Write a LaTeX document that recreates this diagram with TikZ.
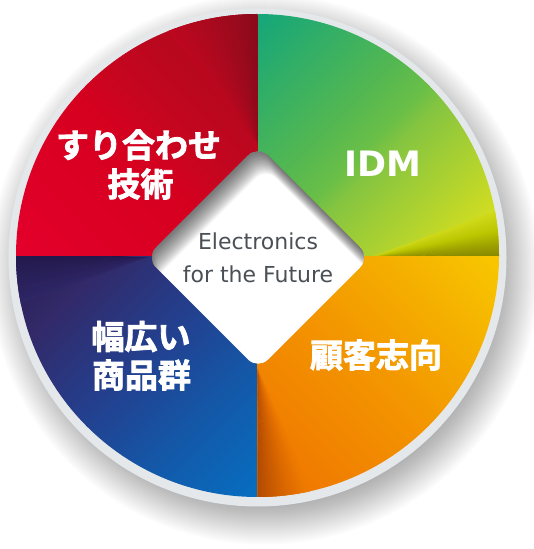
\documentclass[tikz,border=0pt]{standalone}
\usepackage{fontspec}
\newfontfamily\jpb{Noto Sans CJK JP Bold}[FakeBold=2.5]
\newfontfamily\dvs{DejaVu Sans}
\definecolor{ringgray}{HTML}{E5E8EB}
\definecolor{coretext}{HTML}{4B5056}
% linear stops
\definecolor{gA}{HTML}{14A67A}\definecolor{gB}{HTML}{55B850}\definecolor{gC}{HTML}{6BBF47}
\definecolor{gD}{HTML}{86C540}\definecolor{gE}{HTML}{CEDC22}\definecolor{gF}{HTML}{DDE416}
\definecolor{rA}{HTML}{E4002B}\definecolor{rB}{HTML}{D6001F}\definecolor{rC}{HTML}{C5061F}
\definecolor{rD}{HTML}{B0091E}\definecolor{rE}{HTML}{980A1C}
\definecolor{bA}{HTML}{2A1C50}\definecolor{bB}{HTML}{322A6A}\definecolor{bC}{HTML}{243E8C}
\definecolor{bD}{HTML}{1556A6}\definecolor{bE}{HTML}{066FC2}
\definecolor{oA}{HTML}{EE7000}\definecolor{oB}{HTML}{F18300}\definecolor{oC}{HTML}{F39500}
\definecolor{oD}{HTML}{F5AE00}\definecolor{oE}{HTML}{F8C800}
% fold stops
\definecolor{gf0}{HTML}{787A00}\definecolor{gf1}{HTML}{9A9E00}\definecolor{gf2}{HTML}{BDC600}\definecolor{gf3}{HTML}{CFDA1A}
\definecolor{of0}{HTML}{A84400}\definecolor{of1}{HTML}{C65800}\definecolor{of2}{HTML}{E06C00}\definecolor{of3}{HTML}{EF7C00}
\definecolor{rf0}{HTML}{820A1A}\definecolor{rf1}{HTML}{9A0A1D}\definecolor{rf2}{HTML}{AE091E}\definecolor{rf3}{HTML}{BC071F}
\definecolor{bf0}{HTML}{22174A}\definecolor{bf1}{HTML}{2E2766}
\pgfdeclarehorizontalshading{greensh}{100bp}{color(0bp)=(gA); color(25bp)=(gA); color(44.5bp)=(gB); color(50bp)=(gC); color(53bp)=(gD); color(69bp)=(gE); color(75bp)=(gF); color(100bp)=(gF)}
\pgfdeclarehorizontalshading{redsh}{100bp}{color(0bp)=(rA); color(25bp)=(rA); color(47.5bp)=(rB); color(55bp)=(rC); color(67.5bp)=(rD); color(75bp)=(rE); color(100bp)=(rE)}
\pgfdeclarehorizontalshading{bluesh}{100bp}{color(0bp)=(bA); color(25bp)=(bA); color(35bp)=(bB); color(47.5bp)=(bC); color(60bp)=(bD); color(75bp)=(bE); color(100bp)=(bE)}
\pgfdeclarehorizontalshading{orangesh}{100bp}{color(0bp)=(oA); color(25bp)=(oA); color(37.5bp)=(oB); color(50bp)=(oC); color(62.5bp)=(oD); color(75bp)=(oE); color(100bp)=(oE)}
% conic slices about an apex: apex, start angle, end angle, start colour, end colour
\newcommand\wedgeseg[5]{%
  \foreach \i in {0,...,15}{%
    \pgfmathsetmacro\aa{#2+(#3-#2)*\i/16}%
    \pgfmathsetmacro\ab{#2+(#3-#2)*(\i+1)/16+0.3}%
    \pgfmathsetmacro\pp{100-100*(\i+0.5)/16}%
    \fill[#4!\pp!#5] (#1) -- ([shift={(\aa:320)}]#1) arc[start angle=\aa, end angle=\ab, radius=320] -- cycle;
  }}
\tikzset{
  jplabel/.style={text=white, inner sep=0pt, font={\jpb\fontsize{33}{38}\selectfont}},
  idmlabel/.style={text=white, inner sep=0pt, font={\dvs\bfseries\fontsize{35}{40}\selectfont}},
  corelabel/.style={text=coretext, inner sep=0pt, anchor=base, font={\dvs\fontsize{22}{26}\selectfont}}
}
\begin{document}
\begin{tikzpicture}[x=1pt,y=1pt]
\useasboundingbox (0,0) rectangle (533,549);
\fill[white] (0,0) rectangle (533,549);
\coordinate (O) at (257.5,292);
\coordinate (S) at (264.5,279.5);
\coordinate (G) at (257.5,291.5);
\coordinate (K) at (257.5,293.5);
\coordinate (VT) at (258,403.5);
\coordinate (VR) at (370,291.5);
\coordinate (VB) at (258,179.5);
\coordinate (VL) at (146,291.5);
% drop shadow
\foreach \k in {0,...,25}{\fill[black,opacity=0.015] (S) circle[radius=225+2*\k];}
% ring
\fill[ringgray] (G) circle[radius=249];
% coloured disc
\begin{scope}
  \clip (K) circle[radius=241.5];
  % green
  \begin{scope}
    \clip (O) rectangle ++(300,300);
    \begin{scope}[transform canvas={rotate around={-45:(257.5,292)}}]
      \shade[shading=greensh] (86.5,32) rectangle (428.5,552);
    \end{scope}
    \wedgeseg{VR}{-3}{5}{gf0}{gf1}\wedgeseg{VR}{5}{12}{gf1}{gf2}\wedgeseg{VR}{12}{20}{gf2}{gf3}
  \end{scope}
  % red
  \begin{scope}
    \clip (O) rectangle ++(-300,300);
    \begin{scope}[transform canvas={rotate around={45:(257.5,292)}}]
      \shade[shading=redsh] (86.5,32) rectangle (428.5,552);
    \end{scope}
    \wedgeseg{VT}{86}{100}{rf0}{rf1}\wedgeseg{VT}{100}{115}{rf1}{rf2}\wedgeseg{VT}{115}{128}{rf2}{rf3}
  \end{scope}
  % blue
  \begin{scope}
    \clip (O) rectangle ++(-300,-300);
    \begin{scope}[transform canvas={rotate around={-45:(257.5,292)}}]
      \shade[shading=bluesh] (86.5,32) rectangle (428.5,552);
    \end{scope}
    \wedgeseg{VL}{177}{200}{bf0}{bf1}
  \end{scope}
  % orange
  \begin{scope}
    \clip (O) rectangle ++(300,-300);
    \begin{scope}[transform canvas={rotate around={45:(257.5,292)}}]
      \shade[shading=orangesh] (86.5,32) rectangle (428.5,552);
    \end{scope}
    \wedgeseg{VB}{267}{276}{of0}{of1}\wedgeseg{VB}{276}{285}{of1}{of2}\wedgeseg{VB}{285}{293}{of2}{of3}
  \end{scope}
\end{scope}
% central diamond
\fill[white, rounded corners=14] (314,347.5) -- (VR) -- (VB) -- (VL) -- (VT) -- cycle;
\begin{scope}
  \clip[rounded corners=14] (314,347.5) -- (370,291.5) -- (258,179.5) -- (146,291.5) -- (258,403.5) -- cycle;
  \foreach \k in {1,...,16}{
    \begin{scope}[shift={(0.5*\k,-1.4*\k)}]
      \fill[black,opacity=0.045,even odd rule] (-300,-300) rectangle (900,900)
        [rounded corners=14] (314,347.5) -- (370,291.5) -- (258,179.5) -- (146,291.5) -- (258,403.5) -- cycle;
    \end{scope}}
\end{scope}
% labels
\node[jplabel] (tl1) at (138.5,404) {すり合わせ};
\node[jplabel] (tl2) at (140.5,365) {技術};
\node[idmlabel] (tr) at (382.5,385.7) {IDM};
\node[jplabel] (br) at (376,194) {顧客志向};
\node[jplabel] (bl1) at (141,212.5) {幅広い};
\node[jplabel] (bl2) at (141.5,174) {商品群};
\node[corelabel] (c1) at (258,299) {Electronics};
\node[corelabel] (c2) at (258,266) {for the Future};
\end{tikzpicture}
\end{document}
